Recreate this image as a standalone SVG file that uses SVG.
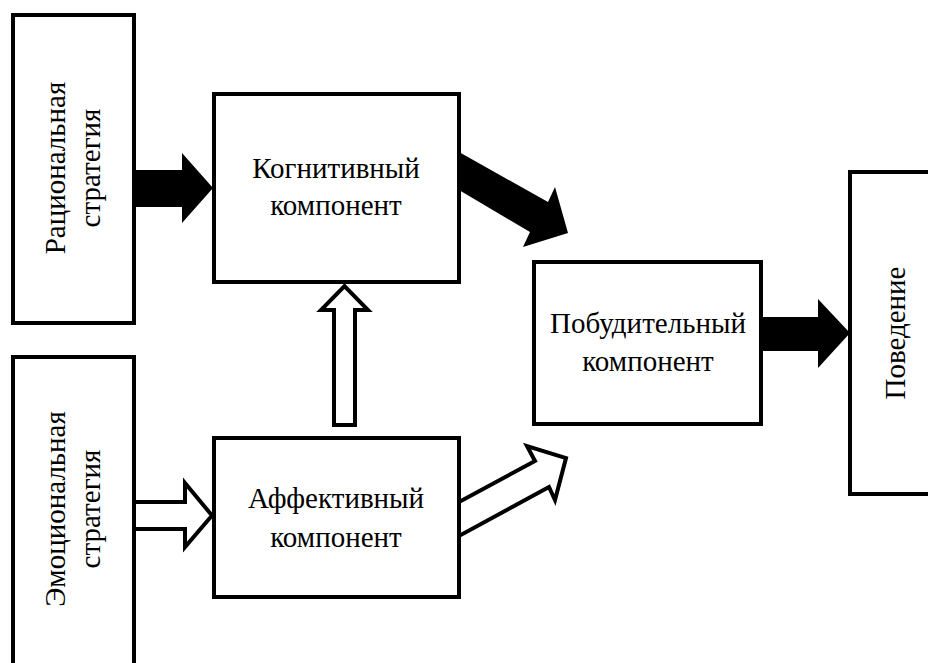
<svg xmlns="http://www.w3.org/2000/svg" width="928" height="663" viewBox="0 0 928 663">
<style>
.box{fill:#fff;stroke:#000;stroke-width:4}
.t{font-family:"Liberation Serif","Times New Roman",serif;font-size:29px;fill:#000;text-anchor:middle}
.solid{fill:#000;stroke:none}
.hollow{fill:#fff;stroke:#000;stroke-width:4;stroke-linejoin:miter}
</style>
<rect width="928" height="663" fill="#fff"/>
<g id="rational">
<rect class="box" x="13" y="15" width="121" height="308"/>
<text class="t" transform="translate(65,168) rotate(-90)">Рациональная</text>
<text class="t" transform="translate(100,168) rotate(-90)">стратегия</text>
</g>
<g id="emotional">
<rect class="box" x="13" y="357" width="121" height="330"/>
<text class="t" transform="translate(65,509) rotate(-90)">Эмоциональная</text>
<text class="t" transform="translate(100,509) rotate(-90)">стратегия</text>
</g>
<g id="cognitive">
<rect class="box" x="214" y="94" width="245" height="188"/>
<text class="t" x="336" y="178">Когнитивный</text>
<text class="t" x="336" y="215">компонент</text>
</g>
<g id="affective">
<rect class="box" x="214" y="438" width="245" height="159"/>
<text class="t" x="336" y="508">Аффективный</text>
<text class="t" x="336" y="547">компонент</text>
</g>
<g id="motivational">
<rect class="box" x="534" y="262" width="227" height="162"/>
<text class="t" x="648" y="333">Побудительный</text>
<text class="t" x="648" y="371">компонент</text>
</g>
<g id="behavior">
<rect class="box" x="850" y="172" width="100" height="322"/>
<text class="t" transform="translate(905,333) rotate(-90)">Поведение</text>
</g>
<g id="connectors">
<polygon class="solid" points="134,170 182,170 182,153 213,188 182,223 182,207 134,207"/>
<polygon class="hollow" points="134,502 185,502 185,483 212,515.5 185,547 185,529 134,529"/>
<polygon class="hollow" points="334,425 334,310 321,310 344.5,286 368,310 355,310 355,425"/>
<polygon class="solid" points="459,152 548,202 555,187 568,233 523,247 530,232 459,190"/>
<polygon class="hollow" points="459,502 535,461 527,446 566,458 555,500 549,487 459,536"/>
<polygon class="solid" points="761,317 818,317 818,299 850,333 818,368 818,351 761,351"/>
</g>
</svg>
